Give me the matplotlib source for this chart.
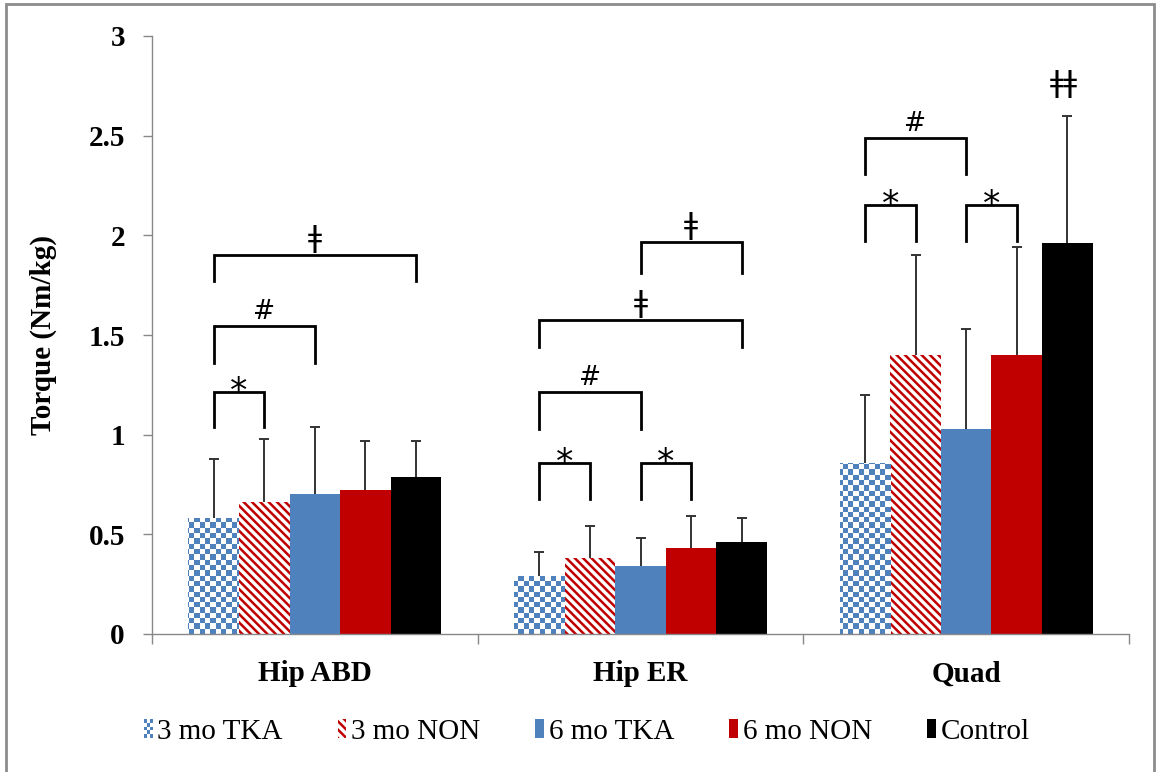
import numpy as np
import matplotlib
matplotlib.use("Agg")
import matplotlib.pyplot as plt
from matplotlib.patches import Rectangle, Patch
from matplotlib.legend_handler import HandlerBase
from matplotlib.transforms import offset_copy
from matplotlib.colors import ListedColormap

# ---------------- data ----------------
categories = ["Hip ABD", "Hip ER", "Quad"]
series_names = ["3 mo TKA", "3 mo NON", "6 mo TKA", "6 mo NON", "Control"]
tka3 = [0.58, 0.29, 0.86]
non3 = [0.66, 0.38, 1.40]
tka6 = [0.70, 0.34, 1.03]
non6 = [0.72, 0.43, 1.40]
ctrl = [0.79, 0.46, 1.96]
tka3_sd = [0.30, 0.12, 0.34]
non3_sd = [0.32, 0.16, 0.50]
tka6_sd = [0.34, 0.14, 0.50]
non6_sd = [0.25, 0.16, 0.54]
ctrl_sd = [0.18, 0.12, 0.64]
y_ticks = [0, 0.5, 1, 1.5, 2, 2.5, 3]
y_tick_labels = ["0", "0.5", "1", "1.5", "2", "2.5", "3"]

# significance brackets: (category index, bar i, bar j, top, leg bottom, symbol)
brackets = [
    (0, 0, 1, 1.214, 1.04, "*"),
    (0, 0, 2, 1.545, 1.36, "#"),
    (0, 0, 4, 1.90, 1.77, "\u01c2"),
    (1, 0, 1, 0.858, 0.677, "*"),
    (1, 2, 3, 0.858, 0.677, "*"),
    (1, 0, 2, 1.214, 1.029, "#"),
    (1, 0, 4, 1.576, 1.44, "\u01c2"),
    (1, 2, 4, 1.967, 1.811, "\u01c2"),
    (2, 0, 1, 2.153, 1.972, "*"),
    (2, 2, 3, 2.153, 1.972, "*"),
    (2, 0, 2, 2.489, 2.308, "#"),
]
single_marks = [(2, 4, "\u01c2\u01c2")]

means = [tka3, non3, tka6, non6, ctrl]
sds = [tka3_sd, non3_sd, tka6_sd, non6_sd, ctrl_sd]

BLUE = "#4F81BD"
RED = "#C00000"
BLACK = "#000000"
HATCH = "\\\\\\\\"

plt.rcParams["hatch.linewidth"] = 1.8
serif = ["Liberation Serif", "DejaVu Serif"]

fig = plt.figure(figsize=(11.57, 7.72), dpi=100)
ax = fig.add_axes([152 / 1157, 1 - 634 / 772, (1129 - 152) / 1157, (634 - 36) / 772])

n = len(series_names)
bw = 0.1554
x = np.arange(len(categories)) + 0.5
offsets = (np.arange(n) - (n - 1) / 2) * bw

err_kw = dict(ecolor="#333333", elinewidth=1.4, capsize=3.8, capthick=1.4)

bars = []
for k in range(n):
    xs = x + offsets[k]
    yerr = [np.zeros(len(categories)), np.array(sds[k])]
    if k == 0:
        b = ax.bar(xs, means[k], bw, color="white", linewidth=0, yerr=yerr,
                   error_kw=err_kw, zorder=2)
    elif k == 1:
        b = ax.bar(xs, means[k], bw, color="white", edgecolor=RED, hatch=HATCH,
                   linewidth=0, yerr=yerr, error_kw=err_kw, zorder=2)
    elif k == 2:
        b = ax.bar(xs, means[k], bw, color=BLUE, linewidth=0, yerr=yerr,
                   error_kw=err_kw, zorder=2)
    elif k == 3:
        b = ax.bar(xs, means[k], bw, color=RED, linewidth=0, yerr=yerr,
                   error_kw=err_kw, zorder=2)
    else:
        b = ax.bar(xs, means[k], bw, color=BLACK, linewidth=0, yerr=yerr,
                   error_kw=err_kw, zorder=2)
    # hide the lower caps (only upper error bars are shown)
    eb = b.errorbar
    if eb is not None:
        for cap in eb.lines[1]:
            yd = np.asarray(cap.get_ydata(), dtype=float)
            if np.allclose(yd, np.asarray(means[k], dtype=float)):
                cap.set_visible(False)
    bars.append(b)

# checkerboard fill for the 3 mo TKA bars (clipped to the bars)
ncx, ncy = 184, 113
cb = (np.indices((ncy, ncx)).sum(axis=0) % 2).astype(float)
cmap = ListedColormap(["white", BLUE])
for patch in bars[0].patches:
    im = ax.imshow(cb, cmap=cmap, extent=(0, 1, 0, 1), transform=ax.transAxes,
                   interpolation="nearest", aspect="auto", zorder=2.1)
    im.set_clip_path(patch)

ax.set_xlim(0, len(categories))
ax.set_ylim(0, 3)

# brackets
for (c, i, j, top, bot, sym) in brackets:
    xi = x[c] + offsets[i]
    xj = x[c] + offsets[j]
    ax.plot([xi, xi, xj, xj], [bot, top, top, bot], color="black", lw=2.0,
            solid_joinstyle="miter", zorder=3)
    xm = (xi + xj) / 2
    if sym == "*":
        tr = offset_copy(ax.transData, fig=fig, y=-7, units="points")
        ax.text(xm, top, sym, transform=tr, ha="center", va="baseline",
                fontsize=25, family="DejaVu Sans", zorder=3)
    elif sym == "#":
        tr = offset_copy(ax.transData, fig=fig, y=5, units="points")
        ax.text(xm, top, sym, transform=tr, ha="center", va="baseline",
                fontsize=19, family="DejaVu Sans", zorder=3)
    else:
        tr = offset_copy(ax.transData, fig=fig, y=6, units="points")
        ax.text(xm, top, sym, transform=tr, ha="center", va="baseline",
                fontsize=22, family="DejaVu Sans", zorder=3)

for (c, i, sym) in single_marks:
    xm = x[c] + offsets[i]
    top = means[i][c] + sds[i][c]
    tr = offset_copy(ax.transData, fig=fig, y=17, units="points")
    ax.text(xm - 0.01, top, sym, transform=tr, ha="center", va="baseline",
            fontsize=22, family="DejaVu Sans", zorder=3)

# axes styling
for s in ["top", "right"]:
    ax.spines[s].set_visible(False)
for s in ["left", "bottom"]:
    ax.spines[s].set_color("#888888")
    ax.spines[s].set_linewidth(1.0)

ax.set_yticks(y_ticks)
ax.set_yticklabels(y_tick_labels, family=serif, fontweight="bold", fontsize=21)
ax.tick_params(axis="y", direction="out", length=6.5, width=1, color="#888888", pad=13)

ax.set_xticks(np.arange(len(categories) + 1))
ax.set_xticklabels([])
ax.tick_params(axis="x", which="major", direction="out", length=7, width=1, color="#888888")
ax.set_xticks(x, minor=True)
ax.set_xticklabels(categories, minor=True, family=serif, fontweight="bold", fontsize=21)
ax.tick_params(axis="x", which="minor", length=0, pad=19)

ax.set_ylabel("Torque (Nm/kg)", family=serif, fontweight="bold", fontsize=21)
ax.yaxis.set_label_coords(-0.097, 0.5)


# legend
class HandlerChecker(HandlerBase):
    def create_artists(self, legend, orig_handle, xdescent, ydescent, width,
                       height, fontsize, trans):
        arts = []
        nx, ny = 3, 5
        cw, ch = width / nx, height / ny
        for ix in range(nx):
            for iy in range(ny):
                col = BLUE if (ix + iy) % 2 == 0 else "white"
                r = Rectangle((-xdescent + ix * cw, -ydescent + iy * ch), cw, ch,
                              facecolor=col, edgecolor="none", transform=trans)
                arts.append(r)
        return arts


h0 = Patch(facecolor="white")
h1 = Patch(facecolor="white", edgecolor=RED, hatch=HATCH, linewidth=0)
h2 = Patch(facecolor=BLUE, linewidth=0)
h3 = Patch(facecolor=RED, linewidth=0)
h4 = Patch(facecolor=BLACK, linewidth=0)
leg = fig.legend([h0, h1, h2, h3, h4], series_names, loc="center",
                 bbox_to_anchor=(0.507, 0.052), ncol=5, frameon=False,
                 prop={"family": serif, "size": 21},
                 handlelength=0.3, handleheight=0.6, handletextpad=0.15,
                 columnspacing=1.9, handler_map={h0: HandlerChecker()})

# outer chart border
fig.patches.append(Rectangle((6 / 1157, -0.01), (1154 - 6) / 1157, 1 - 4 / 772 + 0.01,
                             transform=fig.transFigure, fill=False,
                             edgecolor="#8c8c8c", linewidth=2.0))

fig.savefig("out.png", dpi=100)
